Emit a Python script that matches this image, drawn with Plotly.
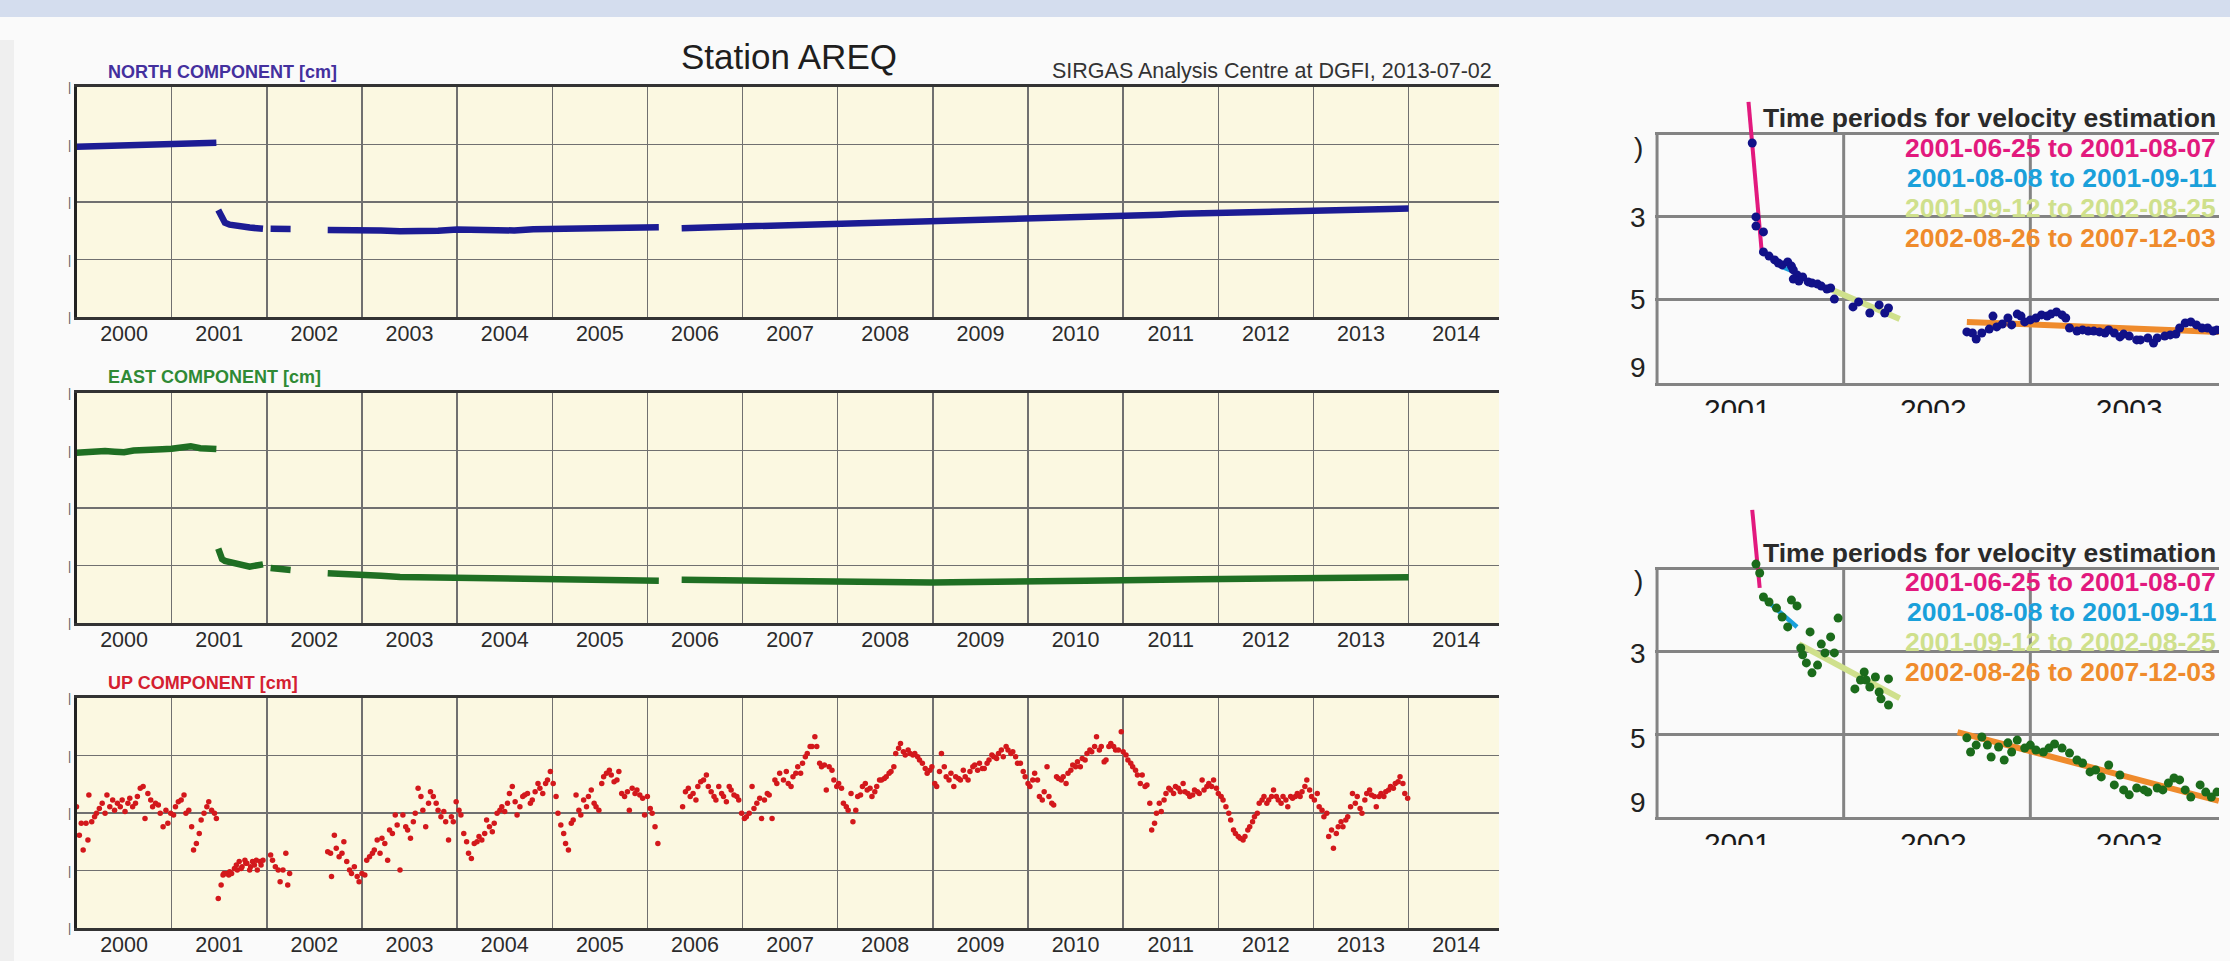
import plotly.graph_objects as go

W, H = 2230, 961
FONT = "Liberation Sans, Arial, Helvetica, sans-serif"

# ---------------- data ----------------
year_ticks = list(range(2000, 2015))
year_labels = [str(y) for y in year_ticks]

# North / East daily series (cm), segments separated by data gaps
gnss_t_pre = [2000.00, 2000.10, 2000.20, 2000.30, 2000.40, 2000.50, 2000.60, 2000.70,
              2000.80, 2000.90, 2001.00, 2001.10, 2001.20, 2001.30, 2001.40, 2001.47]
north_pre = [1.92, 1.93, 1.92, 1.94, 1.95, 1.95, 1.97, 1.99, 2.01, 2.03, 2.02, 2.04, 2.05, 2.04, 2.05, 2.06]
east_pre = [1.92, 1.95, 1.97, 1.98, 1.96, 1.94, 2.00, 2.03, 2.02, 2.04, 2.06, 2.10, 2.15, 2.08, 2.06, 2.05]

gnss_t_post = [2001.49, 2001.51, 2001.53, 2001.56, 2001.61, 2001.69, 2001.82, 2001.96]
north_post = [-0.28, -0.45, -0.60, -0.72, -0.79, -0.85, -0.89, -0.93]
east_post = [-1.41, -1.65, -1.78, -1.84, -1.88, -1.96, -2.04, -1.96]

gnss_t_2002 = [2002.04, 2002.15, 2002.25]
north_2002 = [-0.93, -0.94, -0.94]
east_2002 = [-2.09, -2.12, -2.16]

gnss_t_mid = [2002.64, 2002.80, 2003.00, 2003.20, 2003.40, 2003.60, 2003.80, 2004.00, 2004.20, 2004.40,
              2004.60, 2004.80, 2005.00, 2005.20, 2005.40, 2005.60, 2005.80, 2006.00, 2006.12]
north_mid = [-0.97, -0.96, -0.95, -0.99, -1.02, -1.03, -1.00, -0.96, -0.98, -1.00,
             -0.99, -0.95, -0.94, -0.93, -0.92, -0.91, -0.90, -0.89, -0.88]
east_mid = [-2.27, -2.28, -2.30, -2.36, -2.40, -2.41, -2.42, -2.43, -2.44, -2.46,
            -2.47, -2.43, -2.45, -2.48, -2.51, -2.52, -2.53, -2.53, -2.53]

gnss_t_late = [2006.36, 2006.60, 2006.80, 2007.00, 2007.20, 2007.40, 2007.60, 2007.80, 2008.00, 2008.20,
               2008.40, 2008.60, 2008.80, 2009.00, 2009.20, 2009.40, 2009.60, 2009.80, 2010.00, 2010.20,
               2010.40, 2010.60, 2010.80, 2011.00, 2011.20, 2011.40, 2011.60, 2011.80, 2012.00, 2012.20,
               2012.40, 2012.60, 2012.80, 2013.00, 2013.20, 2013.40, 2013.60, 2013.80, 2014.00]
north_late = [-0.91, -0.89, -0.86, -0.84, -0.83, -0.82, -0.80, -0.78, -0.76, -0.74,
              -0.74, -0.71, -0.69, -0.67, -0.66, -0.65, -0.64, -0.61, -0.59, -0.57,
              -0.55, -0.53, -0.50, -0.48, -0.46, -0.44, -0.41, -0.39, -0.37, -0.36,
              -0.35, -0.33, -0.32, -0.30, -0.28, -0.27, -0.26, -0.24, -0.23]
east_late = [-2.50, -2.51, -2.53, -2.55, -2.55, -2.54, -2.56, -2.58, -2.59, -2.58,
             -2.59, -2.59, -2.58, -2.59, -2.58, -2.58, -2.57, -2.57, -2.56, -2.55,
             -2.53, -2.53, -2.52, -2.50, -2.51, -2.50, -2.49, -2.48, -2.47, -2.46,
             -2.46, -2.45, -2.44, -2.43, -2.43, -2.42, -2.42, -2.41, -2.41]

# Up weekly solutions (cm)
up_t_a = [2000.00, 2000.03, 2000.05, 2000.07, 2000.10, 2000.12, 2000.13, 2000.16, 2000.19, 2000.21,
          2000.24, 2000.27, 2000.30, 2000.32, 2000.35, 2000.38, 2000.40, 2000.43, 2000.46, 2000.48,
          2000.51, 2000.54, 2000.56, 2000.59, 2000.62, 2000.64, 2000.67, 2000.70, 2000.72, 2000.75,
          2000.78, 2000.80, 2000.83, 2000.86, 2000.88, 2000.91, 2000.94, 2000.96, 2000.99, 2001.02,
          2001.04, 2001.07, 2001.10, 2001.13, 2001.15, 2001.18, 2001.21, 2001.23, 2001.26, 2001.29,
          2001.31, 2001.34, 2001.37, 2001.39, 2001.42, 2001.45, 2001.47]
up_cm_a = [0.22, -0.77, -0.36, -1.29, -0.36, -0.94, 0.63, -0.30, -0.13, -0.01,
           0.16, 0.34, -0.01, 0.63, 0.22, 0.45, 0.10, 0.34, 0.22, 0.45,
           0.05, 0.34, 0.51, 0.22, 0.34, 0.57, 0.86, 0.92, -0.19, 0.68,
           0.45, 0.22, 0.34, 0.28, -0.01, -0.48, 0.10, -0.36, -0.01, -0.07,
           0.22, 0.39, 0.45, 0.63, -0.01, 0.10, -0.48, -1.29, -1.06, -0.71,
           -0.24, -0.01, 0.22, 0.39, 0.10, -0.01, -0.19]

up_t_b = [2001.49, 2001.52, 2001.54, 2001.55, 2001.57, 2001.60, 2001.61, 2001.63, 2001.66, 2001.68,
          2001.69, 2001.71, 2001.73, 2001.74, 2001.77, 2001.78, 2001.79, 2001.82, 2001.83, 2001.85,
          2001.87, 2001.89, 2001.90, 2001.93, 2001.94, 2001.96]
up_cm_b = [-2.97, -2.50, -2.16, -2.10, -2.10, -2.16, -2.04, -2.10, -1.93, -1.81,
           -1.98, -1.69, -1.93, -1.87, -1.64, -1.75, -1.75, -1.98, -1.87, -1.69,
           -1.81, -1.64, -1.98, -1.69, -1.81, -1.64]

up_t_c = [2002.04, 2002.06, 2002.09, 2002.12, 2002.14, 2002.17, 2002.20, 2002.22, 2002.24]
up_cm_c = [-1.46, -1.64, -1.87, -1.98, -2.39, -1.98, -1.40, -2.50, -2.10]

up_t_d = [2002.64, 2002.67, 2002.68, 2002.71, 2002.73, 2002.76, 2002.79, 2002.81, 2002.84, 2002.87,
          2002.89, 2002.92, 2002.95, 2002.97, 2003.00, 2003.03, 2003.05, 2003.08, 2003.11, 2003.13,
          2003.16, 2003.19, 2003.21, 2003.24, 2003.27, 2003.29, 2003.32, 2003.35, 2003.37, 2003.40,
          2003.43, 2003.46, 2003.48, 2003.51, 2003.54, 2003.56, 2003.59, 2003.62, 2003.64, 2003.67,
          2003.70, 2003.72, 2003.75, 2003.78, 2003.80, 2003.83, 2003.86, 2003.88, 2003.91, 2003.94,
          2003.96, 2003.99, 2004.02, 2004.04, 2004.07, 2004.10, 2004.12, 2004.15, 2004.18, 2004.21,
          2004.23, 2004.26, 2004.29, 2004.31, 2004.34, 2004.37, 2004.39, 2004.42, 2004.45, 2004.47,
          2004.50, 2004.53, 2004.55, 2004.58, 2004.61, 2004.63, 2004.66, 2004.69, 2004.71, 2004.74,
          2004.77, 2004.79, 2004.82, 2004.85, 2004.87, 2004.90, 2004.93, 2004.95, 2004.98, 2005.01,
          2005.04, 2005.06, 2005.09, 2005.12, 2005.14, 2005.17, 2005.20, 2005.22, 2005.25, 2005.28,
          2005.30, 2005.33, 2005.36, 2005.38, 2005.41, 2005.44, 2005.46, 2005.49, 2005.52, 2005.54,
          2005.57, 2005.60, 2005.62, 2005.65, 2005.68, 2005.70, 2005.73, 2005.76, 2005.79, 2005.81,
          2005.84, 2005.87, 2005.89, 2005.92, 2005.95, 2005.97, 2006.00, 2006.03, 2006.05, 2006.08,
          2006.11]
up_cm_d = [-1.35, -1.40, -2.21, -0.77, -1.23, -1.52, -1.40, -1.00, -1.69, -1.98,
           -2.10, -1.87, -2.21, -2.39, -2.10, -2.16, -1.64, -1.52, -1.40, -1.29,
           -0.94, -1.40, -0.88, -1.06, -1.64, -0.59, -0.71, -0.07, -0.42, -1.98,
           -0.07, -0.48, -0.59, -0.88, -0.30, -0.01, 0.86, 0.57, 0.10, -0.48,
           0.34, 0.74, 0.57, 0.34, 0.10, -0.13, 0.05, -0.30, -0.94, -0.13,
           -0.30, 0.39, 0.10, -0.07, -0.71, -1.00, -1.40, -1.58, -1.06, -1.00,
           -0.82, -0.94, -0.71, -0.24, -0.48, -0.65, -0.36, -0.01, 0.10, 0.22,
           0.05, 0.34, 0.68, 0.92, 0.39, -0.07, 0.22, 0.57, 0.63, 0.68,
           0.34, 0.45, 0.74, 1.03, 0.86, 0.68, 1.03, 1.15, 1.44, 1.03,
           0.57, -0.01, -0.42, -0.71, -1.06, -1.29, -0.36, -0.24, 0.63, 0.10,
           -0.07, 0.45, 0.22, 0.57, 0.80, 0.34, 0.22, 0.10, 1.03, 1.26,
           1.38, 1.49, 1.32, 1.09, 1.15, 1.44, 0.68, 0.57, 0.74, 0.10,
           0.86, 0.68, 0.80, 0.63, 0.51, -0.07, 0.57, 0.16, -0.01, -0.48,
           -1.06]

up_t_e = [2006.37, 2006.40, 2006.43, 2006.45, 2006.48, 2006.51, 2006.53, 2006.56, 2006.59, 2006.62,
          2006.64, 2006.67, 2006.70, 2006.72, 2006.75, 2006.78, 2006.80, 2006.83, 2006.86, 2006.88,
          2006.91, 2006.94, 2006.96, 2006.99, 2007.02, 2007.04, 2007.07, 2007.10, 2007.12, 2007.15,
          2007.18, 2007.20, 2007.23, 2007.26, 2007.28, 2007.31, 2007.34, 2007.36, 2007.39]
up_cm_e = [0.22, 0.74, 0.86, 0.57, 0.68, 0.45, 0.92, 1.09, 1.15, 1.32,
           0.92, 0.74, 0.57, 0.45, 0.92, 0.68, 0.57, 0.39, 0.92, 0.80,
           0.63, 0.57, 0.45, -0.01, -0.19, -0.13, -0.01, 0.92, 0.16, 0.34,
           0.51, -0.19, 0.45, 0.68, 0.63, -0.19, 1.15, 1.03, 1.38]

up_t_f = [2007.43, 2007.46, 2007.48, 2007.51, 2007.53, 2007.56, 2007.58, 2007.61, 2007.63, 2007.66,
          2007.68, 2007.71, 2007.73, 2007.76, 2007.78, 2007.81, 2007.83, 2007.86, 2007.88, 2007.91,
          2007.94, 2007.96, 2007.99, 2008.01, 2008.04, 2008.06, 2008.09, 2008.11, 2008.14, 2008.16,
          2008.19, 2008.21, 2008.24, 2008.26, 2008.29, 2008.31, 2008.34, 2008.36, 2008.39, 2008.41,
          2008.44, 2008.46, 2008.49, 2008.51, 2008.54, 2008.56, 2008.59, 2008.61, 2008.64, 2008.66,
          2008.69, 2008.71, 2008.74, 2008.76, 2008.79, 2008.81, 2008.84, 2008.86, 2008.89, 2008.92,
          2008.94, 2008.97, 2008.99, 2009.02, 2009.04, 2009.07, 2009.09, 2009.12, 2009.14, 2009.17,
          2009.19, 2009.22, 2009.24, 2009.27, 2009.29, 2009.32, 2009.34, 2009.37, 2009.39, 2009.42,
          2009.44, 2009.47, 2009.49, 2009.52, 2009.54, 2009.57, 2009.59, 2009.62, 2009.64, 2009.67,
          2009.69, 2009.72, 2009.74, 2009.77, 2009.79, 2009.82, 2009.84, 2009.87, 2009.89, 2009.92,
          2009.95, 2009.97, 2010.00, 2010.02, 2010.05, 2010.07, 2010.10, 2010.12, 2010.15, 2010.17,
          2010.20, 2010.22, 2010.25, 2010.27, 2010.30, 2010.32, 2010.35, 2010.37, 2010.40, 2010.42,
          2010.45, 2010.47, 2010.50, 2010.52, 2010.55, 2010.57, 2010.60, 2010.62, 2010.65, 2010.67,
          2010.70, 2010.72, 2010.75, 2010.77, 2010.80, 2010.82, 2010.85, 2010.87, 2010.90, 2010.92,
          2010.95, 2010.98, 2011.00, 2011.03, 2011.05, 2011.08, 2011.10, 2011.13, 2011.15, 2011.18,
          2011.20, 2011.23, 2011.25, 2011.28, 2011.30, 2011.33, 2011.35, 2011.38, 2011.40, 2011.43,
          2011.45, 2011.48, 2011.50, 2011.53, 2011.55, 2011.58, 2011.60, 2011.63, 2011.65, 2011.68,
          2011.70, 2011.73, 2011.75, 2011.78, 2011.80, 2011.83, 2011.85, 2011.88, 2011.90, 2011.93,
          2011.95, 2011.98, 2012.00, 2012.03, 2012.05, 2012.08, 2012.11, 2012.13, 2012.16, 2012.18,
          2012.21, 2012.23, 2012.26, 2012.28, 2012.31, 2012.33, 2012.36, 2012.38, 2012.41, 2012.43,
          2012.46, 2012.48, 2012.51, 2012.53, 2012.56, 2012.58, 2012.61, 2012.63, 2012.66, 2012.68,
          2012.71, 2012.73, 2012.76, 2012.78, 2012.81, 2012.83, 2012.86, 2012.88, 2012.91, 2012.93,
          2012.96, 2012.98, 2013.01, 2013.04, 2013.06, 2013.09, 2013.11, 2013.14, 2013.16, 2013.19,
          2013.21, 2013.24, 2013.26, 2013.29, 2013.31, 2013.34, 2013.36, 2013.39, 2013.41, 2013.44,
          2013.46, 2013.49, 2013.51, 2013.54, 2013.56, 2013.59, 2013.61, 2013.64, 2013.66, 2013.69,
          2013.71, 2013.74, 2013.76, 2013.79, 2013.81, 2013.84, 2013.86, 2013.89, 2013.91, 2013.94,
          2013.96, 2013.99]
up_cm_f = [1.15, 1.44, 1.03, 0.92, 1.26, 1.38, 1.61, 1.38, 1.73, 1.96,
           2.07, 2.31, 2.31, 2.65, 2.31, 1.73, 1.61, 1.67, 0.80, 1.61,
           1.49, 1.15, 0.92, 1.03, 0.86, 0.34, 0.22, 0.10, 0.68, -0.30,
           0.10, 0.57, 0.63, 0.92, 1.03, 0.80, 0.86, 0.57, 0.74, 0.92,
           1.15, 1.15, 1.20, 1.26, 1.38, 1.44, 1.61, 2.07, 2.25, 2.42,
           2.13, 2.02, 2.19, 2.07, 2.02, 2.07, 1.96, 1.84, 1.73, 1.55,
           1.38, 1.49, 1.61, 1.03, 0.92, 1.44, 2.07, 1.61, 1.26, 1.15,
           1.38, 0.92, 1.26, 1.20, 1.15, 1.49, 1.26, 1.15, 1.44, 1.61,
           1.67, 1.49, 1.73, 1.55, 1.55, 1.73, 1.84, 2.02, 1.96, 1.90,
           2.07, 2.19, 1.96, 2.31, 2.19, 2.07, 2.13, 1.96, 1.73, 1.73,
           1.44, 1.26, 1.03, 0.92, 1.15, 1.38, 1.15, 0.57, 0.45, 0.74,
           1.61, 0.57, 0.34, 0.28, 1.26, 1.20, 1.15, 1.26, 1.03, 1.38,
           1.49, 1.67, 1.61, 1.78, 1.61, 1.90, 1.84, 2.07, 2.19, 2.13,
           2.31, 2.65, 2.19, 2.31, 1.78, 1.84, 2.31, 2.42, 2.31, 2.19,
           2.19, 2.83, 2.13, 2.02, 1.84, 1.73, 1.61, 1.49, 1.32, 1.03,
           1.32, 0.92, 0.97, 0.34, -0.59, -0.36, -0.01, 0.34, 0.05, 0.45,
           0.68, 0.86, 0.80, 0.68, 0.92, 0.86, 0.74, 1.03, 0.74, 0.68,
           0.57, 0.63, 0.80, 0.74, 0.68, 1.15, 0.80, 0.92, 1.03, 0.92,
           1.15, 0.86, 0.68, 0.57, 0.45, 0.22, -0.01, -0.24, -0.59, -0.71,
           -0.82, -0.88, -0.94, -0.82, -0.59, -0.48, -0.30, -0.13, -0.01, 0.34,
           0.45, 0.57, 0.34, 0.45, 0.57, 0.80, 0.57, 0.45, 0.34, 0.57,
           0.45, 0.22, 0.57, 0.51, 0.57, 0.68, 0.57, 0.74, 0.92, 1.15,
           0.80, 0.57, 0.45, 0.68, 0.22, 0.10, -0.13, -0.01, -0.82, -0.59,
           -1.23, -0.71, -0.48, -0.30, -0.48, -0.24, -0.13, 0.22, 0.68, 0.34,
           0.57, 0.16, -0.01, 0.45, 0.68, 0.80, 0.63, 0.57, 0.22, 0.57,
           0.68, 0.57, 0.74, 0.80, 0.92, 0.86, 1.03, 1.09, 1.26, 1.03,
           0.68, 0.51]

# Inset zooms 2001-2004 (cm, relative)
inset_tick_labels = ["2001", "2002", "2003"]
inset_tick_pos = [2001.43, 2002.48, 2003.53]
inset_grid_years = [2001, 2002, 2003]

period_labels = ["2001-06-25 to 2001-08-07", "2001-08-08 to 2001-09-11",
                 "2001-09-12 to 2002-08-25", "2002-08-26 to 2007-12-03"]
period_colors = ["#e2197e", "#1aa0da", "#cfe08c", "#ef8b2c"]
period_widths = [4, 4.5, 6, 6]

n_fit_t = [[2001.49, 2001.56], [2001.67, 2001.75], [2001.94, 2002.30], [2002.66, 2004.01]]
n_fit_cm = [[1.12, -4.21], [-4.82, -5.04], [-5.65, -6.70], [-6.80, -7.16]]
e_fit_t = [[2001.51, 2001.55], [2001.57, 2001.75], [2001.76, 2002.30], [2002.61, 2004.01]]
e_fit_cm = [[2.10, -0.72], [-1.08, -2.13], [-2.75, -4.70], [-5.93, -8.42]]

nin_t = [2001.51, 2001.53, 2001.53, 2001.57, 2001.57, 2001.60, 2001.63, 2001.65, 2001.67, 2001.70,
         2001.72, 2001.73, 2001.75, 2001.73, 2001.76, 2001.78, 2001.81, 2001.83, 2001.86, 2001.88,
         2001.91, 2001.93, 2001.95, 2002.05, 2002.08, 2002.14, 2002.19, 2002.24, 2002.22,
         2002.66, 2002.69, 2002.71, 2002.74, 2002.78, 2002.80, 2002.82, 2002.85, 2002.88, 2002.90,
         2002.93, 2002.95, 2002.97, 2003.00, 2003.03, 2003.06, 2003.09, 2003.11, 2003.14, 2003.17,
         2003.19, 2003.21, 2003.25, 2003.28, 2003.31, 2003.34, 2003.37, 2003.40, 2003.42, 2003.45,
         2003.48, 2003.50, 2003.53, 2003.57, 2003.59, 2003.63, 2003.66, 2003.68, 2003.72, 2003.75,
         2003.78, 2003.80, 2003.83, 2003.86, 2003.89, 2003.92, 2003.95, 2003.98, 2004.00]
nin_cm = [-0.36, -3.02, -3.35, -3.56, -4.28, -4.43, -4.57, -4.68, -4.75, -4.64,
          -4.79, -4.93, -5.11, -5.26, -5.33, -5.18, -5.36, -5.40, -5.44, -5.51,
          -5.62, -5.58, -5.98, -6.26, -6.08, -6.48, -6.19, -6.30, -6.48,
          -7.16, -7.20, -7.42, -7.20, -7.06, -6.59, -6.98, -6.88, -6.66, -6.91,
          -6.52, -6.59, -6.80, -6.73, -6.66, -6.55, -6.59, -6.52, -6.44, -6.55,
          -6.66, -7.02, -7.13, -7.09, -7.13, -7.13, -7.16, -7.20, -7.09, -7.20,
          -7.34, -7.24, -7.31, -7.45, -7.45, -7.38, -7.56, -7.38, -7.31, -7.27,
          -7.24, -7.02, -6.84, -6.80, -6.91, -7.02, -7.02, -7.13, -7.09]

ein_t = [2001.53, 2001.55, 2001.57, 2001.60, 2001.64, 2001.67, 2001.70, 2001.72, 2001.75, 2001.77,
         2001.78, 2001.80, 2001.82, 2001.83, 2001.86, 2001.88, 2001.90, 2001.93, 2001.95, 2001.97,
         2002.06, 2002.09, 2002.11, 2002.12, 2002.14, 2002.17, 2002.19, 2002.20, 2002.24, 2002.24,
         2002.66, 2002.68, 2002.71, 2002.74, 2002.77, 2002.79, 2002.83, 2002.86, 2002.88, 2002.90,
         2002.93, 2002.97, 2003.00, 2003.03, 2003.07, 2003.10, 2003.13, 2003.17, 2003.21, 2003.25,
         2003.28, 2003.32, 2003.35, 2003.38, 2003.42, 2003.45, 2003.48, 2003.50, 2003.53, 2003.57,
         2003.61, 2003.63, 2003.68, 2003.71, 2003.74, 2003.77, 2003.80, 2003.83, 2003.86, 2003.91,
         2003.94, 2003.97, 2004.00]
ein_cm = [0.14, -0.18, -1.05, -1.23, -1.45, -1.77, -2.13, -1.16, -1.37, -2.89,
          -3.14, -3.43, -2.31, -3.79, -3.51, -2.75, -3.07, -2.49, -3.07, -1.81,
          -4.37, -4.05, -3.76, -4.05, -4.30, -3.94, -4.48, -4.73, -4.01, -4.95,
          -6.14, -6.65, -6.40, -6.11, -6.40, -6.83, -6.47, -6.94, -6.32, -6.65,
          -6.22, -6.51, -6.40, -6.58, -6.65, -6.51, -6.36, -6.51, -6.69, -6.94,
          -7.05, -7.37, -7.30, -7.55, -7.12, -7.84, -7.48, -8.02, -8.20, -7.95,
          -8.02, -8.10, -7.95, -8.02, -7.77, -7.59, -7.66, -8.02, -8.28, -7.84,
          -8.10, -8.28, -8.10]

# ---------------- assemble ----------------
def joined(*segs):
    out = []
    for i, s in enumerate(segs):
        if i:
            out.append(None)
        out.extend(s)
    return out

gnss_t = joined(gnss_t_pre, gnss_t_post, gnss_t_2002, gnss_t_mid, gnss_t_late)
north_cm = joined(north_pre, north_post, north_2002, north_mid, north_late)
east_cm = joined(east_pre, east_post, east_2002, east_mid, east_late)
up_t = up_t_a + up_t_b + up_t_c + up_t_d + up_t_e + up_t_f
up_cm = up_cm_a + up_cm_b + up_cm_c + up_cm_d + up_cm_e + up_cm_f
assert len(up_t) == len(up_cm)
assert len(nin_t) == len(nin_cm) and len(ein_t) == len(ein_cm)

BG = "#fafafa"
CREAM = "#fbf8e1"
GRID = "#707070"
IGRID = "#838383"

fig = go.Figure()

fig.add_trace(go.Scatter(x=gnss_t, y=north_cm, mode="lines", connectgaps=False,
                         line=dict(color="#1c1c94", width=6.5), xaxis="x", yaxis="y"))
fig.add_trace(go.Scatter(x=gnss_t, y=east_cm, mode="lines", connectgaps=False,
                         line=dict(color="#1f6f23", width=6.5), xaxis="x2", yaxis="y2"))
fig.add_trace(go.Scatter(x=up_t, y=up_cm, mode="markers",
                         marker=dict(color="#d3181c", size=5.5), xaxis="x3", yaxis="y3"))

for ft, fc, col, w in zip(n_fit_t, n_fit_cm, period_colors, period_widths):
    fig.add_trace(go.Scatter(x=ft, y=fc, mode="lines", line=dict(color=col, width=w),
                             xaxis="x4", yaxis="y4"))
fig.add_trace(go.Scatter(x=nin_t, y=nin_cm, mode="markers",
                         marker=dict(color="#111188", size=9), xaxis="x4", yaxis="y4"))
for ft, fc, col, w in zip(e_fit_t, e_fit_cm, period_colors, period_widths):
    fig.add_trace(go.Scatter(x=ft, y=fc, mode="lines", line=dict(color=col, width=w),
                             xaxis="x5", yaxis="y5"))
fig.add_trace(go.Scatter(x=ein_t, y=ein_cm, mode="markers",
                         marker=dict(color="#1b6b1b", size=9), xaxis="x5", yaxis="y5"))

layout = dict(width=W, height=H, autosize=False, margin=dict(l=0, r=0, t=0, b=0, autoexpand=False),
              paper_bgcolor=BG, plot_bgcolor="rgba(0,0,0,0)", showlegend=False,
              hovermode=False, font=dict(family=FONT))

main_x_dom = [76.5 / W, 1499 / W]
main_rows = [(87, 317), (393, 623), (698, 928)]
shapes = []
for i, (top, bot) in enumerate(main_rows):
    n = "" if i == 0 else str(i + 1)
    layout["xaxis" + n] = dict(
        domain=main_x_dom, anchor="y" + n, range=[2000.0, 2014.95], automargin=False,
        tickmode="array", tickvals=[y + 0.5 for y in year_ticks], ticktext=year_labels,
        showgrid=False, ticks="", zeroline=False,
        minor=dict(tickmode="array", tickvals=year_ticks[1:], showgrid=True,
                   gridcolor=GRID, gridwidth=1.5, ticks=""),
        showline=True, mirror=True, linecolor="#333333", linewidth=3,
        tickfont=dict(family=FONT, size=21.5, color="#2b2b2b"), ticklabelstandoff=-5)
    layout["yaxis" + n] = dict(
        domain=[1 - bot / H, 1 - top / H], anchor="x" + n, range=[-4, 4], automargin=False,
        tickmode="array", tickvals=[-4, -2, 0, 2, 4], ticktext=["|"] * 5,
        showgrid=True, gridcolor=GRID, gridwidth=1.5, zeroline=False, ticks="",
        showline=True, linecolor="#222222", linewidth=3,
        tickfont=dict(family=FONT, size=12, color="#555555"))
    shapes.append(dict(type="rect", xref="x" + n + " domain", yref="y" + n + " domain",
                       x0=0, x1=1, y0=0, y1=1, fillcolor=CREAM, line=dict(width=0),
                       layer="below"))

inset_x_dom = [1655 / W, 2219 / W]
inset_rows = [(4, 100, 383, 1.188), (5, 505, 817, 2.277)]
for k, top, bot, ytop in inset_rows:
    n = str(k)
    layout["xaxis" + n] = dict(
        domain=inset_x_dom, anchor="y" + n, range=[2000.989, 2004.011], automargin=False,
        tickmode="array", tickvals=inset_tick_pos, ticktext=inset_tick_labels,
        showgrid=False, ticks="", zeroline=False,
        showline=True, linecolor=IGRID, linewidth=3,
        tickfont=dict(family=FONT, size=30, color="#1a1a1a"), ticklabelstandoff=-2)
    layout["yaxis" + n] = dict(
        domain=[1 - bot / H, 1 - top / H], anchor="x" + n, range=[-9, ytop], automargin=False,
        tickmode="array", tickvals=[-6, -3, 0], showgrid=True, gridcolor=IGRID,
        gridwidth=3, showticklabels=False, zeroline=False, ticks="", showline=False)
    for gy in inset_grid_years:
        shapes.append(dict(type="line", xref="x" + n, yref="y" + n, x0=gy, x1=gy,
                           y0=-9, y1=0, line=dict(color=IGRID, width=3), layer="below"))

# slide decorations and clipping of the inset screenshots
shapes.append(dict(type="rect", xref="paper", yref="paper", x0=0, x1=1, y0=1 - 17 / H, y1=1,
                   fillcolor="#d4ddee", line=dict(width=0), layer="below"))
shapes.append(dict(type="rect", xref="paper", yref="paper", x0=0, x1=14 / W, y0=0, y1=1 - 40 / H,
                   fillcolor="#efefef", line=dict(width=0), layer="below"))
shapes.append(dict(type="rect", xref="paper", yref="paper", x0=1590 / W, x1=1,
                   y0=1 - 495 / H, y1=1 - 413 / H, fillcolor=BG, line=dict(width=0), layer="above"))
shapes.append(dict(type="rect", xref="paper", yref="paper", x0=1590 / W, x1=1,
                   y0=0, y1=1 - 845 / H, fillcolor=BG, line=dict(width=0), layer="above"))
layout["shapes"] = shapes

ann = []
def add_text(text, x, y, size, color, xanchor="left", bold=False):
    ann.append(dict(text=("<b>%s</b>" % text) if bold else text, x=x / W, y=1 - y / H,
                    xref="paper", yref="paper", xanchor=xanchor, yanchor="middle",
                    showarrow=False, font=dict(family=FONT, size=size, color=color)))

add_text("Station AREQ", 789, 56, 35, "#1e1e1e", xanchor="center")
add_text("SIRGAS Analysis Centre at DGFI, 2013-07-02", 1494, 71, 21.5, "#333333", xanchor="right")
add_text("NORTH COMPONENT [cm]", 106, 72, 18, "#44309e", bold=True)
add_text("EAST COMPONENT [cm]", 106, 377, 18, "#2f8a35", bold=True)
add_text("UP COMPONENT [cm]", 106, 683, 18, "#d42030", bold=True)

for title_y, first_y in [(118, 148), (553, 582)]:
    add_text("Time periods for velocity estimation", 2218, title_y, 26.5, "#2a2a2a",
             xanchor="right", bold=True)
    for j, (lab, col) in enumerate(zip(period_labels, period_colors)):
        add_text(lab, 2218, first_y + 30 * j, 26.5, col, xanchor="right", bold=True)

for frag_y, frag in zip([148, 217, 300, 367], [")", "3", "5", "9"]):
    add_text(frag, 1638, frag_y, 28, "#222222", xanchor="center")
for frag_y, frag in zip([580, 653, 738, 802], [")", "3", "5", "9"]):
    add_text(frag, 1638, frag_y, 28, "#222222", xanchor="center")

layout["annotations"] = ann
fig.update_layout(**layout)
fig.write_html("out.html", config={"displayModeBar": False, "staticPlot": True},
               post_script="document.body.style.margin='0';document.body.style.overflow='hidden';")
